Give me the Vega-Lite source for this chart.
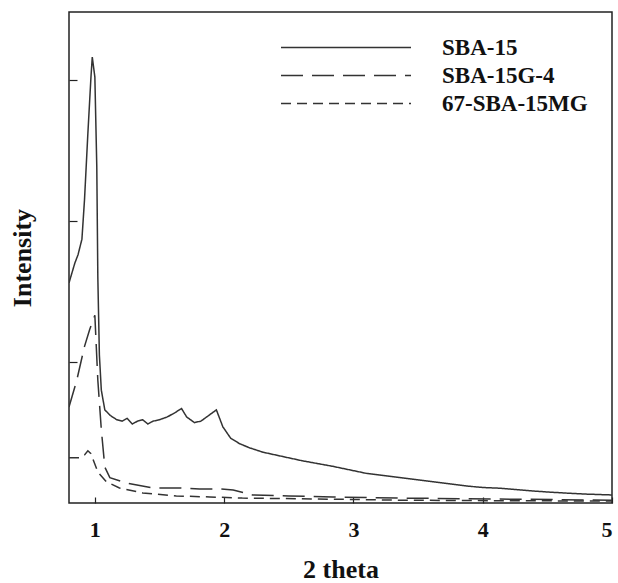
{
  "$schema": "https://vega.github.io/schema/vega-lite/v6.json",
  "autosize": {"type": "none"},
  "width": 543,
  "height": 491,
  "padding": {"left": 69, "top": 12, "right": 6, "bottom": 80},
  "background": "white",
  "config": {
    "view": {"stroke": "#222", "strokeWidth": 1.5},
    "axis": {"domain": false, "grid": false, "labelFont": "Liberation Serif", "titleFont": "Liberation Serif", "labelColor": "#111", "titleColor": "#111", "tickColor": "#222", "tickWidth": 1.2}
  },
  "data": {"values": [
    {"x": 0.80, "y": 1.56, "s": "SBA-15"},
    {"x": 0.845, "y": 1.70, "s": "SBA-15"},
    {"x": 0.87, "y": 1.76, "s": "SBA-15"},
    {"x": 0.90, "y": 1.87, "s": "SBA-15"},
    {"x": 0.92, "y": 2.15, "s": "SBA-15"},
    {"x": 0.946, "y": 2.62, "s": "SBA-15"},
    {"x": 0.97, "y": 3.02, "s": "SBA-15"},
    {"x": 0.98, "y": 3.16, "s": "SBA-15"},
    {"x": 1.00, "y": 3.02, "s": "SBA-15"},
    {"x": 1.015, "y": 2.38, "s": "SBA-15"},
    {"x": 1.023, "y": 1.60, "s": "SBA-15"},
    {"x": 1.035, "y": 1.05, "s": "SBA-15"},
    {"x": 1.05, "y": 0.80, "s": "SBA-15"},
    {"x": 1.077, "y": 0.66, "s": "SBA-15"},
    {"x": 1.12, "y": 0.62, "s": "SBA-15"},
    {"x": 1.17, "y": 0.59, "s": "SBA-15"},
    {"x": 1.21, "y": 0.58, "s": "SBA-15"},
    {"x": 1.25, "y": 0.60, "s": "SBA-15"},
    {"x": 1.29, "y": 0.56, "s": "SBA-15"},
    {"x": 1.33, "y": 0.58, "s": "SBA-15"},
    {"x": 1.37, "y": 0.59, "s": "SBA-15"},
    {"x": 1.41, "y": 0.56, "s": "SBA-15"},
    {"x": 1.45, "y": 0.58, "s": "SBA-15"},
    {"x": 1.50, "y": 0.59, "s": "SBA-15"},
    {"x": 1.56, "y": 0.61, "s": "SBA-15"},
    {"x": 1.62, "y": 0.64, "s": "SBA-15"},
    {"x": 1.67, "y": 0.67, "s": "SBA-15"},
    {"x": 1.71, "y": 0.61, "s": "SBA-15"},
    {"x": 1.77, "y": 0.57, "s": "SBA-15"},
    {"x": 1.82, "y": 0.58, "s": "SBA-15"},
    {"x": 1.88, "y": 0.62, "s": "SBA-15"},
    {"x": 1.94, "y": 0.66, "s": "SBA-15"},
    {"x": 1.99, "y": 0.54, "s": "SBA-15"},
    {"x": 2.05, "y": 0.46, "s": "SBA-15"},
    {"x": 2.12, "y": 0.42, "s": "SBA-15"},
    {"x": 2.20, "y": 0.39, "s": "SBA-15"},
    {"x": 2.30, "y": 0.36, "s": "SBA-15"},
    {"x": 2.40, "y": 0.34, "s": "SBA-15"},
    {"x": 2.50, "y": 0.32, "s": "SBA-15"},
    {"x": 2.60, "y": 0.30, "s": "SBA-15"},
    {"x": 2.72, "y": 0.28, "s": "SBA-15"},
    {"x": 2.84, "y": 0.26, "s": "SBA-15"},
    {"x": 2.97, "y": 0.235, "s": "SBA-15"},
    {"x": 3.10, "y": 0.21, "s": "SBA-15"},
    {"x": 3.23, "y": 0.195, "s": "SBA-15"},
    {"x": 3.36, "y": 0.18, "s": "SBA-15"},
    {"x": 3.49, "y": 0.165, "s": "SBA-15"},
    {"x": 3.62, "y": 0.15, "s": "SBA-15"},
    {"x": 3.75, "y": 0.135, "s": "SBA-15"},
    {"x": 3.88, "y": 0.12, "s": "SBA-15"},
    {"x": 4.00, "y": 0.11, "s": "SBA-15"},
    {"x": 4.13, "y": 0.105, "s": "SBA-15"},
    {"x": 4.26, "y": 0.095, "s": "SBA-15"},
    {"x": 4.39, "y": 0.085, "s": "SBA-15"},
    {"x": 4.52, "y": 0.077, "s": "SBA-15"},
    {"x": 4.65, "y": 0.07, "s": "SBA-15"},
    {"x": 4.80, "y": 0.063, "s": "SBA-15"},
    {"x": 5.00, "y": 0.057, "s": "SBA-15"},

    {"x": 0.80, "y": 0.68, "s": "SBA-15G-4"},
    {"x": 0.86, "y": 0.87, "s": "SBA-15G-4"},
    {"x": 0.92, "y": 1.11, "s": "SBA-15G-4"},
    {"x": 0.96, "y": 1.23, "s": "SBA-15G-4"},
    {"x": 1.00, "y": 1.33, "s": "SBA-15G-4"},
    {"x": 1.023, "y": 0.87, "s": "SBA-15G-4"},
    {"x": 1.05, "y": 0.52, "s": "SBA-15G-4"},
    {"x": 1.077, "y": 0.255, "s": "SBA-15G-4"},
    {"x": 1.116, "y": 0.18, "s": "SBA-15G-4"},
    {"x": 1.25, "y": 0.14, "s": "SBA-15G-4"},
    {"x": 1.45, "y": 0.106, "s": "SBA-15G-4"},
    {"x": 1.66, "y": 0.106, "s": "SBA-15G-4"},
    {"x": 1.81, "y": 0.099, "s": "SBA-15G-4"},
    {"x": 1.97, "y": 0.099, "s": "SBA-15G-4"},
    {"x": 2.07, "y": 0.092, "s": "SBA-15G-4"},
    {"x": 2.22, "y": 0.057, "s": "SBA-15G-4"},
    {"x": 2.50, "y": 0.05, "s": "SBA-15G-4"},
    {"x": 2.84, "y": 0.043, "s": "SBA-15G-4"},
    {"x": 3.36, "y": 0.035, "s": "SBA-15G-4"},
    {"x": 4.13, "y": 0.028, "s": "SBA-15G-4"},
    {"x": 5.00, "y": 0.02, "s": "SBA-15G-4"},

    {"x": 0.80, "y": 0.32, "s": "67-SBA-15MG"},
    {"x": 0.88, "y": 0.32, "s": "67-SBA-15MG"},
    {"x": 0.92, "y": 0.34, "s": "67-SBA-15MG"},
    {"x": 0.946, "y": 0.37, "s": "67-SBA-15MG"},
    {"x": 0.97, "y": 0.35, "s": "67-SBA-15MG"},
    {"x": 0.99, "y": 0.30, "s": "67-SBA-15MG"},
    {"x": 1.023, "y": 0.22, "s": "67-SBA-15MG"},
    {"x": 1.09, "y": 0.15, "s": "67-SBA-15MG"},
    {"x": 1.19, "y": 0.106, "s": "67-SBA-15MG"},
    {"x": 1.37, "y": 0.071, "s": "67-SBA-15MG"},
    {"x": 1.63, "y": 0.05, "s": "67-SBA-15MG"},
    {"x": 1.89, "y": 0.043, "s": "67-SBA-15MG"},
    {"x": 2.14, "y": 0.035, "s": "67-SBA-15MG"},
    {"x": 2.60, "y": 0.03, "s": "67-SBA-15MG"},
    {"x": 3.36, "y": 0.02, "s": "67-SBA-15MG"},
    {"x": 4.20, "y": 0.016, "s": "67-SBA-15MG"},
    {"x": 5.00, "y": 0.014, "s": "67-SBA-15MG"}
  ]},
  "mark": {"type": "line", "color": "#333", "strokeWidth": 1.5, "clip": true},
  "encoding": {
    "x": {
      "field": "x", "type": "quantitative",
      "scale": {"domain": [0.8, 5], "nice": false, "zero": false},
      "axis": {"values": [1, 2, 3, 4, 5], "tickSize": -6, "labelPadding": 22, "labelFontSize": 22, "labelFontWeight": "bold", "title": "2 theta", "titleFontSize": 26, "titleFontWeight": "bold", "titleBaseline": "alphabetic", "titleY": 74}
    },
    "y": {
      "field": "y", "type": "quantitative",
      "scale": {"domain": [0, 3.48], "nice": false},
      "axis": {"values": [1, 2, 3], "tickSize": -8, "labels": false, "title": "Intensity", "titleFontSize": 26, "titleFontWeight": "bold", "titleBaseline": "alphabetic", "titleX": -39}
    },
    "strokeDash": {
      "field": "s", "type": "nominal",
      "scale": {"domain": ["SBA-15", "SBA-15G-4", "67-SBA-15MG"], "range": [[1, 0], [22, 9], [10, 6]]},
      "legend": {
        "title": null, "orient": "none", "legendX": 211, "legendY": 25,
        "symbolType": "stroke", "symbolSize": 16900, "symbolStrokeWidth": 1.5, "symbolStrokeColor": "#333",
        "labelFont": "Liberation Serif", "labelFontSize": 23, "labelFontWeight": "bold", "labelColor": "#111",
        "labelOffset": 30, "rowPadding": 4, "clipHeight": 21
      }
    }
  }
}
